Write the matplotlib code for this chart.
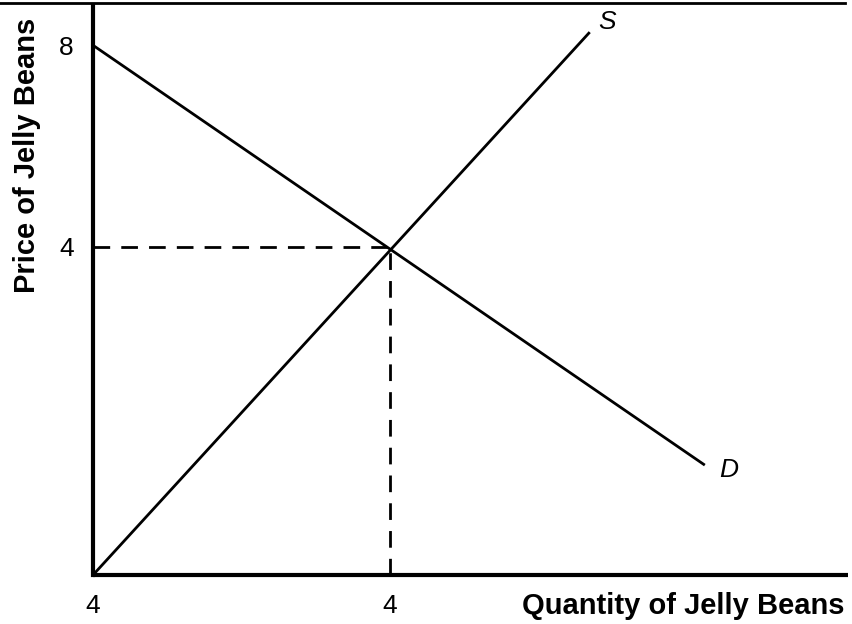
import matplotlib
matplotlib.use("Agg")
import matplotlib.pyplot as plt
from matplotlib.lines import Line2D

# Data (schematic units)
supply_x = [0.0, 6.69]
supply_y = [0.0, 6.62]
demand_x = [0.0, 8.24]
demand_y = [6.46, 1.34]
eq_x, eq_y = 4.0, 4.0
ytick_pos = [6.46, 4.0]
ytick_labels = ["8", "4"]
xtick_pos = [0.0, 4.0]
xtick_labels = ["4", "4"]

W, H = 852, 624
fig = plt.figure(figsize=(W / 100, H / 100), dpi=100)
left, right, top, bottom = 93, 848, 5, 575
ax = fig.add_axes([left / W, (H - bottom) / H, (right - left) / W, (bottom - top) / H])
ax.set_xlim(0, (right - left) / 74.25)
ax.set_ylim(0, (bottom - top) / 82.0)

ax.plot(supply_x, supply_y, color="black", lw=2, solid_capstyle="butt")
ax.plot(demand_x, demand_y, color="black", lw=2, solid_capstyle="butt")
ax.plot([0, eq_x], [eq_y, eq_y], color="black", lw=2, dashes=(6, 4))
ax.plot([eq_x, eq_x], [0, eq_y], color="black", lw=2, dashes=(6, 4))

ax.text(supply_x[1] + 0.12, supply_y[1] + 0.12, "S", fontsize=19, style="italic",
        family="Liberation Sans", ha="left", va="center")
ax.text(demand_x[1] + 0.2, demand_y[1] - 0.06, "D", fontsize=19, style="italic",
        family="Liberation Sans", ha="left", va="center")

for s in ["top", "right"]:
    ax.spines[s].set_visible(False)
for s in ["left", "bottom"]:
    ax.spines[s].set_linewidth(3)
ax.spines["bottom"].set_capstyle("butt")

ax.set_yticks(ytick_pos)
ax.set_yticklabels(ytick_labels, fontsize=19, family="Liberation Sans")
ax.set_xticks(xtick_pos)
ax.set_xticklabels(xtick_labels, fontsize=19, family="Liberation Sans")
ax.tick_params(length=0)
ax.tick_params(axis="x", pad=14)
ax.tick_params(axis="y", pad=14)

fig.text(845 / W, 1 - 606 / H, "Quantity of Jelly Beans", fontsize=21, fontweight="bold",
         family="Liberation Sans", ha="right", va="center")
fig.text(27 / W, 1 - 155 / H, "Price of Jelly Beans", fontsize=21, fontweight="bold",
         family="Liberation Sans", ha="center", va="center", rotation=90)

fig.add_artist(Line2D([0, 845 / W], [1 - 3 / H, 1 - 3 / H], color="black", lw=2,
                      transform=fig.transFigure))

fig.savefig("out.png", dpi=100)
